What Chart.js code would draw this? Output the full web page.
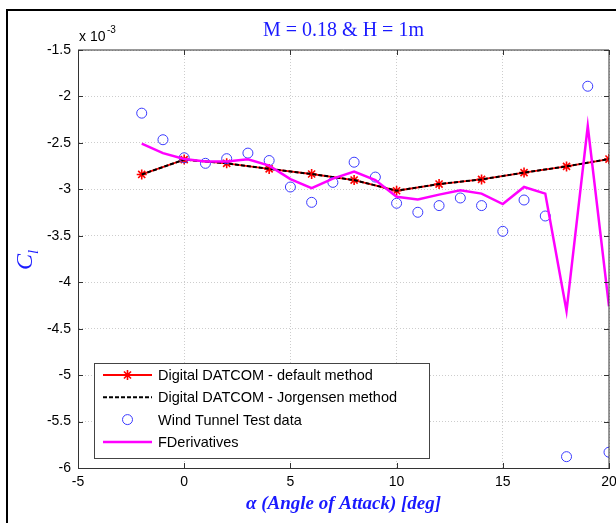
<!DOCTYPE html>
<html lang="en">
<head>
<meta charset="UTF-8" />
<title>Cl vs alpha</title>
<style>
  html, body { margin: 0; padding: 0; background: #fff; }
  #wrap { position: relative; width: 616px; height: 523px; overflow: hidden; }
  #frame { position: absolute; left: 6px; top: 9px; width: 700px; height: 600px;
           border-left: 2px solid #000; border-top: 2px solid #000; }
  canvas { position: absolute; left: 0; top: 0; }
</style>
</head>
<body>
<div id="wrap">
  <div id="frame"></div>
  <canvas id="myChart" width="616" height="523"></canvas>
</div>

<script src="https://cdn.jsdelivr.net/npm/chart.js@4/dist/chart.umd.min.js"></script>
<script>
  // values in units of 1e-3
  const datcomAlpha = [-2, 0, 2, 4, 6, 8, 10, 12, 14, 16, 18, 20];
  const datcomDefault = [-2.84, -2.68, -2.72, -2.78, -2.835, -2.90, -3.015, -2.943, -2.893, -2.82, -2.753, -2.674];
  const datcomJorgensen = [-2.84, -2.68, -2.72, -2.78, -2.835, -2.90, -3.015, -2.943, -2.893, -2.82, -2.753, -2.674];

  const tunnelAlpha = [-2, -1, 0, 1, 2, 3, 4, 5, 6, 7, 8, 9, 10, 11, 12, 13, 14, 15, 16, 17, 18, 19, 20];
  const tunnelCl = [-2.18, -2.466, -2.66, -2.72, -2.67, -2.61, -2.69, -2.975, -3.14, -2.925, -2.708, -2.868,
                    -3.15, -3.247, -3.175, -3.093, -3.175, -3.452, -3.115, -3.287, -5.878, -1.89, -5.83];
  const fderivCl = [-2.509, -2.61, -2.674, -2.70, -2.70, -2.677, -2.745, -2.89, -2.986, -2.885, -2.808, -2.90,
                    -3.08, -3.11, -3.057, -3.01, -3.046, -3.158, -2.975, -3.046, -4.31, -2.32, -4.26];

  const xTicks = [-5, 0, 5, 10, 15, 20];
  const yTicks = [-6, -5.5, -5, -4.5, -4, -3.5, -3, -2.5, -2, -1.5];
  const seriesNames = ["Digital DATCOM - default method", "Digital DATCOM - Jorgensen method",
                       "Wind Tunnel Test data", "FDerivatives"];

  const toXY = (xs, ys) => xs.map((x, i) => ({ x: x, y: ys[i] }));

  const sans = "'Liberation Sans', Arial, sans-serif";
  const serif = "'Liberation Serif', 'Times New Roman', serif";
  const blue = "#1a1aff";

  const decor = {
    id: "decor",
    afterDraw(chart) {
      const ctx = chart.ctx;
      const a = chart.chartArea;
      const xs = chart.scales.x, ys = chart.scales.y;
      ctx.save();

      // box + inward ticks
      ctx.strokeStyle = "#333";
      ctx.lineWidth = 1;
      ctx.beginPath();
      ctx.moveTo(a.left, a.top); ctx.lineTo(a.right, a.top); ctx.lineTo(a.right, a.bottom);
      xTicks.forEach(v => {
        const px = Math.round(xs.getPixelForValue(v)) + 0.5;
        ctx.moveTo(px, a.bottom); ctx.lineTo(px, a.bottom - 5);
        ctx.moveTo(px, a.top); ctx.lineTo(px, a.top + 5);
      });
      yTicks.forEach(v => {
        const py = Math.round(ys.getPixelForValue(v)) + 0.5;
        ctx.moveTo(a.left, py); ctx.lineTo(a.left + 5, py);
        ctx.moveTo(a.right, py); ctx.lineTo(a.right - 5, py);
      });
      ctx.stroke();

      // title
      ctx.fillStyle = blue;
      ctx.textAlign = "center";
      ctx.textBaseline = "middle";
      ctx.font = "20px " + serif;
      ctx.fillText("M = 0.18 & H = 1m", (a.left + a.right) / 2, 31);

      // x axis label
      ctx.font = "italic bold 19px " + serif;
      ctx.fillText("\u03b1 (Angle of Attack) [deg]", (a.left + a.right) / 2, 504);

      // y axis label C_l
      ctx.save();
      ctx.translate(26, 262);
      ctx.rotate(-Math.PI / 2);
      ctx.textAlign = "left";
      ctx.font = "italic 24px " + serif;
      ctx.fillText("C", -8, 0);
      ctx.font = "italic 15px " + serif;
      ctx.fillText("l", 8, 8);
      ctx.restore();

      // exponent
      ctx.fillStyle = "#000";
      ctx.textAlign = "left";
      ctx.font = "14px " + sans;
      ctx.fillText("x 10", a.left + 1, 37);
      ctx.font = "10px " + sans;
      ctx.fillText("-3", a.left + 29, 30);

      // legend
      const lx = 94, ly = 363, lw = 335, lh = 95;
      ctx.fillStyle = "#fff";
      ctx.fillRect(lx, ly, lw, lh);
      ctx.strokeStyle = "#444";
      ctx.lineWidth = 1;
      ctx.strokeRect(lx + 0.5, ly + 0.5, lw, lh);
      chart.data.datasets.forEach((ds, i) => {
        const y = ly + 12 + i * 22.3;
        if (ds.showLine !== false) {
          ctx.save();
          ctx.strokeStyle = ds.borderColor;
          ctx.lineWidth = ds.borderWidth;
          ctx.setLineDash(ds.borderDash || []);
          ctx.beginPath();
          ctx.moveTo(103, y); ctx.lineTo(152, y);
          ctx.stroke();
          ctx.restore();
        }
        if (ds.pointRadius > 0) {
          ctx.save();
          ctx.strokeStyle = ds.pointBorderColor;
          ctx.fillStyle = ds.pointBackgroundColor || "rgba(0,0,0,0)";
          ctx.lineWidth = ds.pointBorderWidth;
          Chart.helpers.drawPoint(ctx, {
            pointStyle: ds.pointStyle, radius: ds.pointRadius, rotation: 0,
            borderWidth: ds.pointBorderWidth
          }, 127.5, y);
          ctx.restore();
        }
        ctx.fillStyle = "#000";
        ctx.font = "14.5px " + sans;
        ctx.textAlign = "left";
        ctx.fillText(ds.label, 158, y + 1);
      });
      ctx.restore();
    }
  };

  const ctx = document.getElementById("myChart").getContext("2d");
  const chart = new Chart(ctx, {
    type: "line",
    data: {
      datasets: [
        {
          label: seriesNames[0],
          data: toXY(datcomAlpha, datcomDefault),
          borderColor: "#ff0000",
          borderWidth: 1.8,
          pointStyle: "star",
          pointRadius: 5,
          pointBorderColor: "#ff0000",
          pointBorderWidth: 1.6,
          order: 4
        },
        {
          label: seriesNames[1],
          data: toXY(datcomAlpha, datcomJorgensen),
          borderColor: "#000000",
          borderWidth: 2,
          borderDash: [4, 2],
          pointRadius: 0,
          order: 3
        },
        {
          label: seriesNames[2],
          data: toXY(tunnelAlpha, tunnelCl),
          showLine: false,
          borderColor: "#3a3aff",
          pointStyle: "circle",
          pointRadius: 5,
          pointBorderColor: "#3a3aff",
          pointBackgroundColor: "rgba(0,0,0,0)",
          pointBorderWidth: 1,
          order: 2
        },
        {
          label: seriesNames[3],
          data: toXY(tunnelAlpha, fderivCl),
          borderColor: "#ff00ff",
          borderWidth: 2.5,
          pointRadius: 0,
          order: 1
        }
      ]
    },
    options: {
      responsive: false,
      animation: false,
      layout: { padding: { left: 0, right: 7, top: 50, bottom: 0 } },
      plugins: { legend: { display: false }, tooltip: { enabled: false } },
      elements: { line: { tension: 0 } },
      scales: {
        x: {
          type: "linear",
          min: -5, max: 20,
          afterBuildTicks: s => { s.ticks = xTicks.map(v => ({ value: v })); },
          afterFit: s => { s.height = 55; s.paddingLeft = 0; s.paddingRight = 0; },
          ticks: { color: "#000", font: { family: sans, size: 14 }, padding: 6, maxRotation: 0,
                   callback: v => String(v) },
          grid: { color: "#cdcdcd", drawTicks: false },
          border: { color: "#333", dash: [1, 2] }
        },
        y: {
          type: "linear",
          min: -6, max: -1.5,
          afterBuildTicks: s => { s.ticks = yTicks.map(v => ({ value: v })); },
          afterFit: s => { s.width = 78; s.paddingTop = 0; s.paddingBottom = 0; },
          ticks: { color: "#000", font: { family: sans, size: 14 }, padding: 7,
                   callback: v => String(v) },
          grid: { color: "#cdcdcd", drawTicks: false },
          border: { color: "#333", dash: [1, 2] }
        }
      }
    },
    plugins: [decor]
  });
</script>
</body>
</html>
